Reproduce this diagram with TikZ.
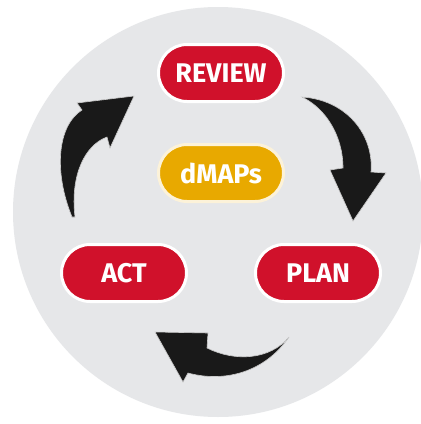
\documentclass[tikz,border=0pt]{standalone}
\usepackage{fontspec}
\setmainfont{Fira Sans}
\usetikzlibrary{shapes.misc}
\definecolor{bg}{HTML}{E6E7E9}
\definecolor{pillred}{HTML}{D0112B}
\definecolor{pillyellow}{HTML}{E8A900}
\tikzset{
  pill/.style={rounded rectangle, draw=white, line width=3pt, minimum width=125pt, minimum height=57pt, inner sep=0pt,
    text=white, font=\fontsize{27}{31}\selectfont\bfseries},
  redpill/.style={pill, fill=pillred},
  yellowpill/.style={pill, fill=pillyellow, draw=white!85!pillyellow},
  cyclearrow/.style={fill=black!90, draw=white!80!black, line width=0.6pt, line join=miter}
}
\begin{document}
\begin{tikzpicture}[x=1pt,y=-1pt]
\useasboundingbox (0,0) rectangle (421,424);
\fill[white] (0,0) rectangle (421,424);
\fill[bg] (218,212) circle (205);
\node[redpill] (review) at (221,73) {REVIEW};
\node[yellowpill] (dmaps) at (221,173) {dMAPs};
\node[redpill] (act) at (124,273) {ACT};
\node[redpill] (plan) at (318,273) {PLAN};
% left arrow (ACT -> REVIEW)
\filldraw[cyclearrow] (72,217) .. controls (53,170) and (58,125) .. (82,110)
  -- (77,103) -- (134,96) -- (110,148) -- (107,137)
  .. controls (85,145) and (70,175) .. (75,217) -- cycle;
% right arrow (REVIEW -> PLAN)
\filldraw[cyclearrow] (302,97) .. controls (347,100) and (374,135) .. (371,172)
  -- (386,173) -- (353,221) -- (330,170) -- (343,168)
  .. controls (343,135) and (325,108) .. (302,97) -- cycle;
% bottom arrow (PLAN -> ACT)
\filldraw[cyclearrow] (289,337) .. controls (265,372) and (225,383) .. (188,373)
  -- (183,382) -- (155,332) -- (208,333) -- (207,348)
  .. controls (235,362) and (270,360) .. (289,337) -- cycle;
\end{tikzpicture}
\end{document}
